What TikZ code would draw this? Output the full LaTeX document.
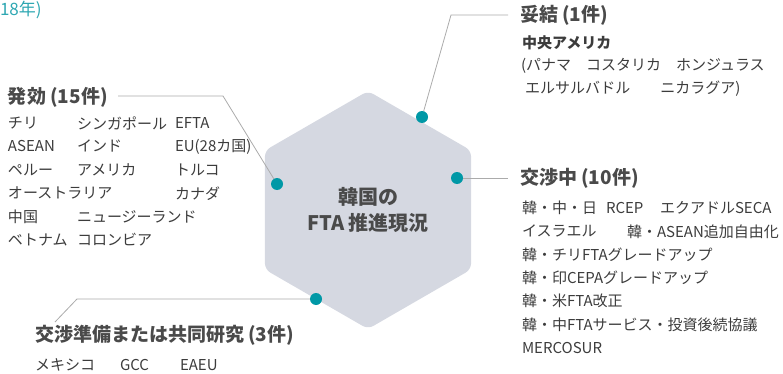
\documentclass[tikz,border=0pt]{standalone}
\usepackage{fontspec}
\setmainfont{Noto Sans CJK JP}
\usetikzlibrary{positioning, shapes.geometric}
\definecolor{hexgray}{HTML}{D5D8E1}
\definecolor{dotteal}{HTML}{0098A6}
\definecolor{yearteal}{HTML}{2EA7B2}
\definecolor{txtgray}{HTML}{3C3C3C}
\definecolor{headgray}{HTML}{4A4A4A}
\definecolor{linegray}{HTML}{ABABAB}

\begin{document}
\begin{tikzpicture}[
      x = 1pt, y = -1pt,
      every node/.style = {inner sep = 0pt, outer sep = 0pt, text = txtgray},
      hexbox/.style = {regular polygon, regular polygon sides = 6,
        shape border rotate = 30, minimum size = 238pt, fill = hexgray,
        rounded corners = 6pt, align = center, text = headgray,
        font = \fontsize{20}{26}\selectfont\bfseries},
      bead/.style = {circle, fill = dotteal, minimum size = 12pt},
      heading/.style = {anchor = west, text = headgray,
        font = \fontsize{19}{22}\selectfont\bfseries},
      entry/.style = {anchor = west, font = \fontsize{15}{18}\selectfont},
      leader/.style = {draw = linegray, line width = 0.8pt}]

      \useasboundingbox (0,0) rectangle (783,374);

      \node [anchor = west, text = yearteal, font = \fontsize{17}{20}\selectfont]
        (year) at (0,10) {18年)};

      \node [hexbox] (hex) at (368,210) {韓国の\\FTA 推進現況};

      \node [bead] (beadT) at (422,117) {};
      \node [bead] (beadR) at (457,178) {};
      \node [bead] (beadL) at (277,184) {};
      \node [bead] (beadB) at (316,299) {};

      \coordinate (bendT) at (451,15);
      \coordinate (endT)  at (508,15);
      \coordinate (endR)  at (508,178);
      \coordinate (bendL) at (223,96);
      \coordinate (endL)  at (118,96);
      \coordinate (bendB) at (77,299);
      \coordinate (endB)  at (55,322);

      \draw [leader] (beadT) -- (bendT) -- (endT);
      \draw [leader] (beadR) -- (endR);
      \draw [leader] (beadL) -- (bendL) -- (endL);
      \draw [leader] (beadB) -- (bendB) -- (endB);

      % 妥結
      \node [heading] (headT) at (520,15) {妥結 (1件)};
      \node [entry, font = \fontsize{15}{18}\selectfont\bfseries] (cam) at (522,43) {中央アメリカ};
      \node [entry] (camA) at (521,66) {(パナマ　コスタリカ　ホンジュラス};
      \node [entry] (camB) at (525,89) {エルサルバドル　　ニカラグア)};

      % 交渉中
      \node [heading] (headR) at (520,178) {交渉中 (10件)};
      \foreach \txt [count = \i] in {韓・中・日, イスラエル, 韓・チリFTAグレードアップ,
          韓・印CEPAグレードアップ, 韓・米FTA改正, 韓・中FTAサービス・投資後続協議, MERCOSUR}
        \node [entry] (neg\i) at (522,{184.7+23.3*\i}) {\txt};
      \node [entry] (rcep) at (606,208) {RCEP};
      \node [entry] (seca) at (660,208) {エクアドルSECA};
      \node [entry] (asean) at (627,231.3) {韓・ASEAN追加自由化};

      % 発効
      \node [heading] (headL) at (8,97) {発効 (15件)};
      \foreach \txt [count = \i] in {チリ, ASEAN, ペルー, オーストラリア, 中国, ベトナム}
        \node [entry] (effA\i) at (8,{99.6+23.4*\i}) {\txt};
      \foreach \i/\txt in {1/シンガポール, 2/インド, 3/アメリカ, 5/ニュージーランド, 6/コロンビア}
        \node [entry] (effB\i) at (77,{99.6+23.4*\i}) {\txt};
      \foreach \i/\txt in {1/EFTA, 2/EU(28カ国), 3/トルコ, 4/カナダ}
        \node [entry] (effC\i) at (175,{99.6+23.4*\i}) {\txt};

      % 交渉準備または共同研究
      \node [heading] (headB) at (35,335) {交渉準備または共同研究 (3件)};
      \node [entry] (mex) at (35,365) {メキシコ};
      \node [entry] (gcc) at (120,365) {GCC};
      \node [entry] (eaeu) at (180,365) {EAEU};
  \end{tikzpicture}
\end{document}
